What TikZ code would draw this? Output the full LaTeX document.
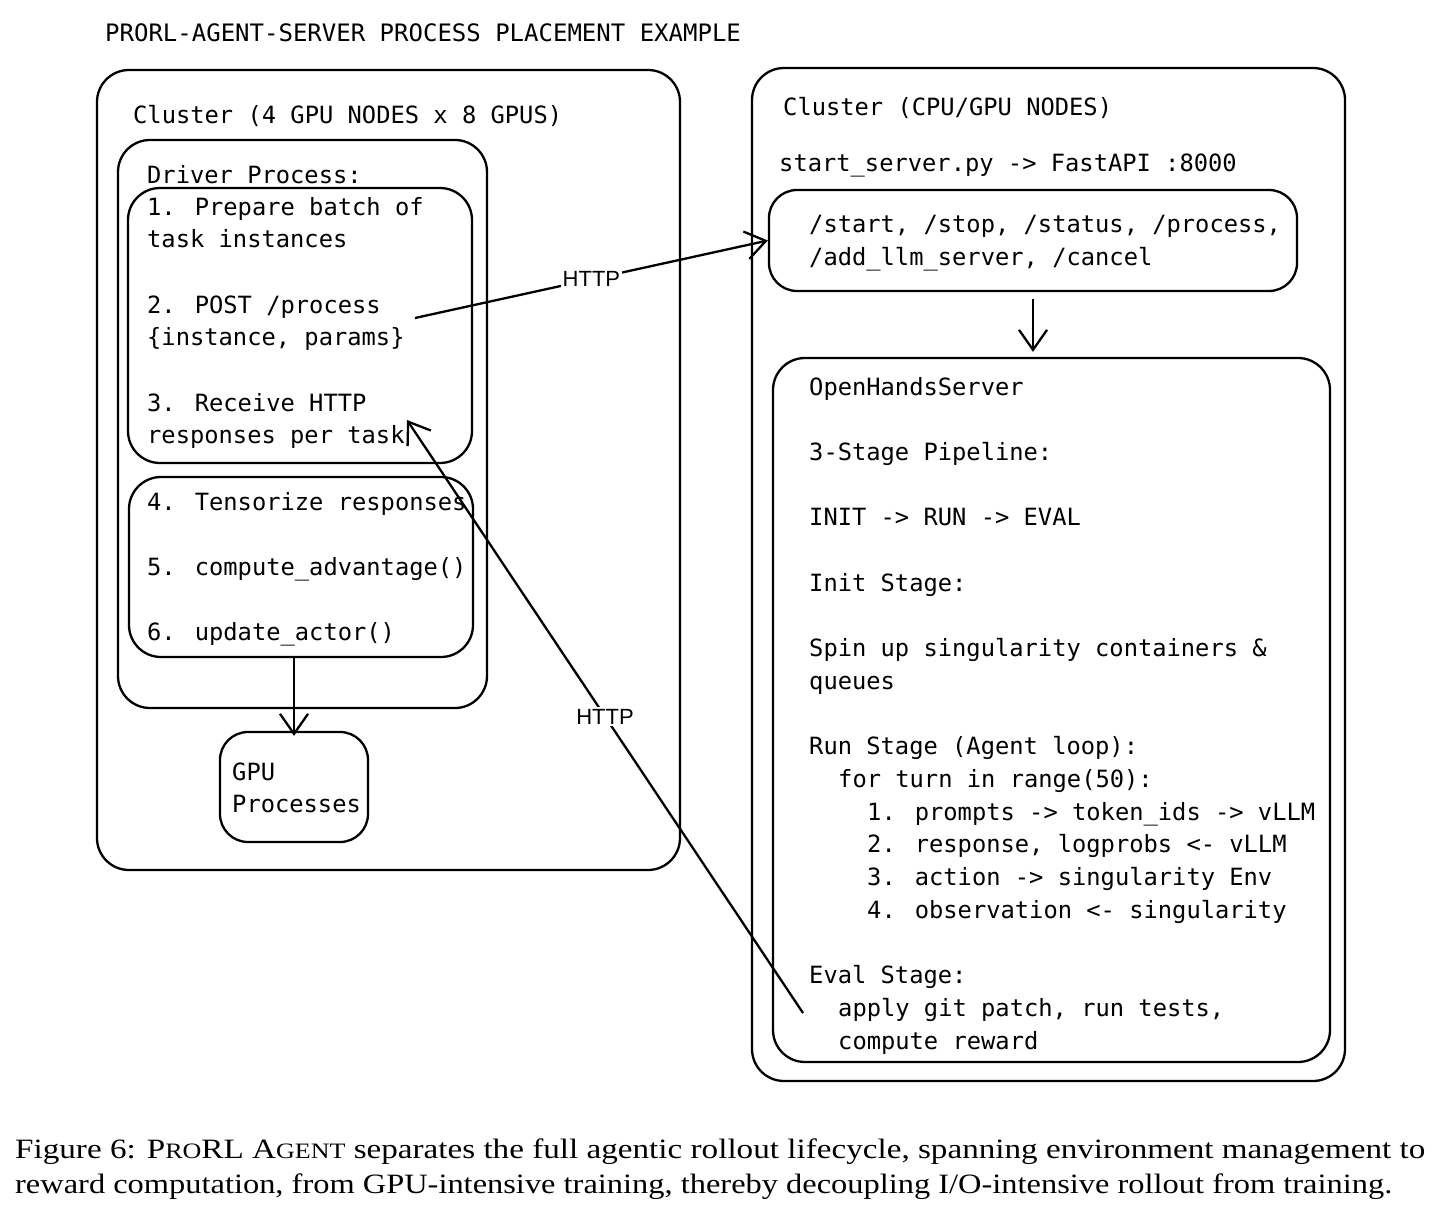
\documentclass[tikz,border=0pt]{standalone}
\usepackage{fontspec}
\usepackage{graphicx}
\setmainfont{Liberation Serif}
\newfontfamily\monofont{DejaVu Sans Mono}
\newfontfamily\labelfont{Liberation Sans}
\usetikzlibrary{arrows.meta,fit}
\begin{document}
\begin{tikzpicture}[x=1pt,y=-1pt,
  box/.style={draw, line width=2.3pt, rounded corners=32pt, inner sep=0pt},
  mono/.style={font=\monofont\fontsize{23.75}{28}\selectfont, anchor=base west, inner sep=0pt},
  conn/.style={line width=2.3pt, -{Straight Barb[length=20pt,width=28pt,line width=2.3pt]}},
  httplbl/.style={font=\labelfont\fontsize{22}{24}\selectfont, fill=white, inner sep=2pt},
  captxt/.style={font=\fontsize{28}{34}\selectfont, anchor=base west, inner sep=0pt}
]
\useasboundingbox (0,0) rectangle (1442,1209);

% title
\node[mono, font=\monofont\fontsize{24.0}{28}\selectfont] (title) at (105,42) {PRORL-AGENT-SERVER PROCESS PLACEMENT EXAMPLE};

% ---------- left cluster ----------
\node[box, fit={(97,70) (680,870)}] (clusterL) {};
\node[mono] (clLtitle) at (133,124) {Cluster (4 GPU NODES x 8 GPUS)};
\node[box, fit={(118,140) (487,708)}] (driver) {};
\node[mono] (drvtitle) at (147,183) {Driver Process:};
\node[box, fit={(128,188) (472,463)}] (box1) {};
\node[mono] (s1a) at (147,215.0) {1. Prepare batch of};
\node[mono] (s1b) at (147,247.7) {task instances};
\node[mono] (s2a) at (147,313.1) {2. POST /process};
\node[mono] (s2b) at (147,345.8) {\{instance, params\}};
\node[mono] (s3a) at (147,411.2) {3. Receive HTTP};
\node[mono] (s3b) at (147,443.9) {responses per task};
\node[box, fit={(129,477) (473,657)}] (box2) {};
\node[mono] (s4) at (147,510.0) {4. Tensorize responses};
\node[mono] (s5) at (147,575.4) {5. compute\_advantage()};
\node[mono] (s6) at (147,640.8) {6. update\_actor()};
\node[box, rounded corners=28pt, fit={(220,732) (368,842)}] (gpu) {};
\node[mono] (gpu1) at (232,780) {GPU};
\node[mono] (gpu2) at (232,812.7) {Processes};
\draw[conn] (box2.south -| gpu.north) -- ([yshift=-5pt]gpu.north);

% ---------- right cluster ----------
\node[box, fit={(752,68) (1345,1081)}] (clusterR) {};
\node[mono] (clRtitle) at (783,116) {Cluster (CPU/GPU NODES)};
\node[mono] (srv) at (779,172) {start\_server.py -> FastAPI :8000};
\node[box, rounded corners=28pt, fit={(769,190) (1297,291)}] (ep) {};
\node[mono] (ep1) at (809,233) {/start, /stop, /status, /process,};
\node[mono] (ep2) at (809,265.7) {/add\_llm\_server, /cancel};
\node[box, fit={(773,358) (1330,1062)}] (ohs) {};
\draw[conn, shorten <=7pt, shorten >=5pt] (ep.south) -- (ep.south |- ohs.north);
\node[mono] (o1) at (809,395.0) {OpenHandsServer};
\node[mono] (o2) at (809,460.4) {3-Stage Pipeline:};
\node[mono] (o3) at (809,525.8) {INIT -> RUN -> EVAL};
\node[mono] (o4) at (809,591.2) {Init Stage:};
\node[mono] (o5) at (809,656.6) {Spin up singularity containers \&};
\node[mono] (o6) at (809,689.3) {queues};
\node[mono] (o7) at (809,754.7) {Run Stage (Agent loop):};
\node[mono] (o8) at (838,787.4) {for turn in range(50):};
\node[mono] (o9) at (867,820.1) {1. prompts -> token\_ids -> vLLM};
\node[mono] (o10) at (867,852.8) {2. response, logprobs <- vLLM};
\node[mono] (o11) at (867,885.5) {3. action -> singularity Env};
\node[mono] (o12) at (867,918.2) {4. observation <- singularity};
\node[mono] (o13) at (809,983.6) {Eval Stage:};
\node[mono] (o14) at (838,1016.3) {apply git patch, run tests,};
\node[mono] (o15) at (838,1049.0) {compute reward};

% ---------- HTTP connectors ----------
\coordinate (h1s) at (415,318);
\draw[conn] (h1s) -- node[httplbl] (http1) {HTTP} (ep.west);
\coordinate (h2s) at (803,1013);
\coordinate (h2e) at (407,420);
\draw[conn] (h2s) -- node[httplbl] (http2) {HTTP} (h2e);

% ---------- caption ----------
\node[captxt] (cap1) at (15,1158) {\resizebox{1410pt}{\height}{Figure 6: P{\fontsize{22}{26}\selectfont RO}RL A{\fontsize{22}{26}\selectfont GENT} separates the full agentic rollout lifecycle, spanning environment management to}};
\node[captxt] (cap2) at (15,1193) {\resizebox{1377pt}{\height}{reward computation, from GPU-intensive training, thereby decoupling I/O-intensive rollout from training.}};
\end{tikzpicture}
\end{document}
